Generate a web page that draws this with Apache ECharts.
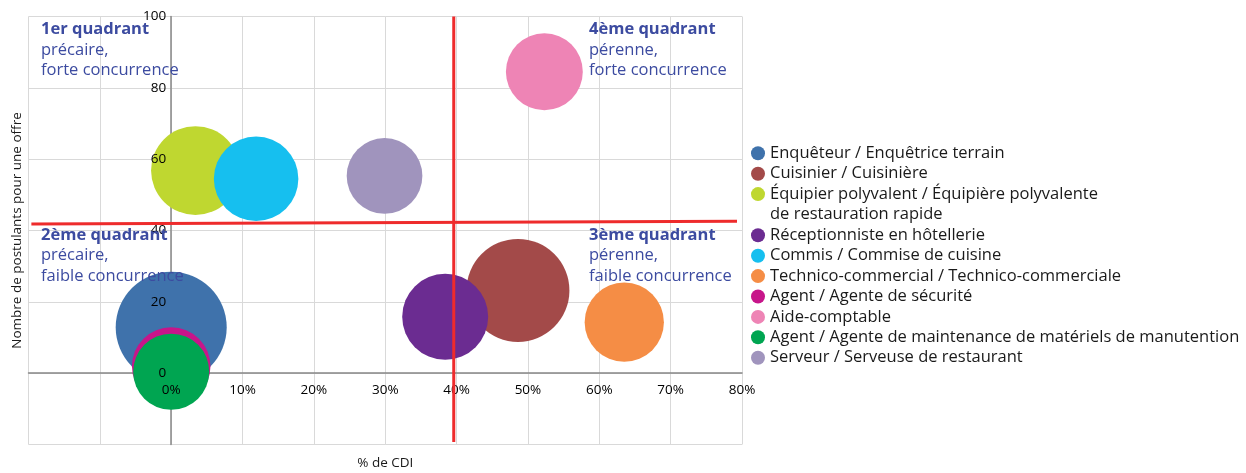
<!DOCTYPE html>
<html>
<head>
<meta charset="utf-8">
<script src="https://cdn.jsdelivr.net/npm/echarts/dist/echarts.min.js"></script>
<style>
html,body{margin:0;padding:0;background:#fff;}
#chart{width:1246px;height:473px;}
</style>
</head>
<body>
<div id="chart"></div>
<script>
// ---- data ----
const jobNames = [
  'Enquêteur / Enquêtrice terrain',
  'Cuisinier / Cuisinière',
  'Équipier polyvalent / Équipière polyvalente\nde restauration rapide',
  'Réceptionniste en hôtellerie',
  'Commis / Commise de cuisine',
  'Technico-commercial / Technico-commerciale',
  'Agent / Agente de sécurité',
  'Aide-comptable',
  'Agent / Agente de maintenance de matériels de manutention',
  'Serveur / Serveuse de restaurant'
];
const cdiPercent = [0, 48.6, 3.4, 38.4, 11.9, 63.5, 0, 52.3, 0, 29.9];
const applicantsPerOffer = [12.9, 23.2, 56.8, 15.8, 54.5, 14.3, 1.9, 84.5, 0.4, 55.3];
const bubbleValue = [100, 86, 64, 60, 58, 51, 50, 48, 47, 46.5];
const verticalDivider = [[39.6, -19.3], [39.6, 100]];
const horizontalDivider = [[-19.6, 41.8], [79.3, 42.6]];
const xRange = [-20, 80], xStep = 10;
const yRange = [-20, 100], yStep = 20;
const quadrantTitles = ['1er quadrant', '4ème quadrant', '2ème quadrant', '3ème quadrant'];
const quadrantLines = [
  ['précaire,', 'forte concurrence'],
  ['pérenne,', 'forte concurrence'],
  ['précaire,', 'faible concurrence'],
  ['pérenne,', 'faible concurrence']
];

// ---- styles / layout ----
const colors = ['#3f72ab', '#a34a49', '#bfd730', '#6b2c91', '#16bfef', '#f58d45', '#c7158a', '#ee84b5', '#00a551', '#a094bd'];
const FONT = 'Open Sans';
const TXT = 16.5;
const MAX_DIAMETER = 111;
const quadrantPos = [[41, 21], [589, 21], [41, 226.5], [589, 226.5]];
const W = 1246, H = 473;
const G = {left: 28.5, right: 504, top: 16.5, bottom: 28.5};
const plotW = W - G.left - G.right, plotH = H - G.top - G.bottom;
const zeroX = G.left + (0 - xRange[0]) / (xRange[1] - xRange[0]) * plotW;
const zeroY = G.top + (yRange[1] - 0) / (yRange[1] - yRange[0]) * plotH;

const chart = echarts.init(document.getElementById('chart'), null, {renderer: 'canvas'});

const series = jobNames.map((n, i) => ({
  type: 'scatter',
  name: n,
  xAxisIndex: 0, yAxisIndex: 0,
  data: [[cdiPercent[i], applicantsPerOffer[i], bubbleValue[i]]],
  symbol: 'circle',
  symbolSize: v => MAX_DIAMETER * Math.sqrt(v[2] / 100),
  itemStyle: {color: colors[i], opacity: 1},
  emphasis: {disabled: true},
  z: 2,
  silent: true
}));
series.push({
  type: 'line', name: 'divV', xAxisIndex: 0, yAxisIndex: 0,
  data: verticalDivider, symbol: 'none', silent: true, z: 6,
  lineStyle: {color: '#ee2b2c', width: 3}
});
series.push({
  type: 'line', name: 'divH', xAxisIndex: 0, yAxisIndex: 0,
  data: horizontalDivider, symbol: 'none', silent: true, z: 6,
  lineStyle: {color: '#ee2b2c', width: 3}
});

const legendText = {fontFamily: FONT, fontSize: TXT, color: '#1a1a1a', lineHeight: 20.4};
const firstLine = n => n.split('\n')[0];

const graphics = quadrantTitles.map((t, i) => ({
  type: 'text', left: quadrantPos[i][0], top: quadrantPos[i][1], z: 20, silent: true,
  style: {
    text: '{b|' + t + '}\n' + quadrantLines[i].map(s => '{r|' + s + '}').join('\n'),
    rich: {
      b: {fontFamily: FONT, fontSize: TXT, fontWeight: 'bold', fill: '#3c4ba0', lineHeight: 20.4},
      r: {fontFamily: FONT, fontSize: TXT, fill: '#3c4ba0', lineHeight: 20.4}
    }
  }
}));
graphics.push({
  type: 'text', left: 770, top: 204.1, z: 20, silent: true,
  style: {text: jobNames[2].split('\n')[1], fontFamily: FONT, fontSize: TXT, fill: '#1a1a1a', lineHeight: 20.4}
});

const noGridOpts = {outerBoundsMode: 'none', containLabel: false};
const hiddenAxis = (gi, r) => ({gridIndex: gi, type: 'value', min: r[0], max: r[1], show: false});
const labelFont = {color: '#000', fontSize: 13.5, fontFamily: FONT};

const option = {
  animation: false,
  backgroundColor: '#ffffff',
  textStyle: {fontFamily: FONT},
  grid: [
    Object.assign({}, G, noGridOpts),
    // grid whose left edge sits on x = 0 : carries the y tick labels
    Object.assign({left: zeroX, right: G.right, top: G.top, bottom: G.bottom}, noGridOpts),
    // grid whose bottom edge sits on y = 0 : carries the x tick labels
    Object.assign({left: G.left, right: G.right, top: G.top, bottom: H - zeroY}, noGridOpts)
  ],
  xAxis: [
    {
      gridIndex: 0, type: 'value', min: xRange[0], max: xRange[1], interval: xStep, position: 'bottom',
      axisLine: {show: true, onZero: true, lineStyle: {color: '#878787', width: 1.5}},
      axisTick: {show: false},
      axisLabel: {show: false},
      splitLine: {show: true, showMinLine: true, showMaxLine: true, lineStyle: {color: '#d9d9d9', width: 1}},
      z: 0
    },
    hiddenAxis(1, xRange),
    {
      gridIndex: 2, type: 'value', min: xRange[0], max: xRange[1], interval: xStep, position: 'bottom',
      axisLine: {show: false, onZero: false},
      axisTick: {show: false},
      splitLine: {show: false},
      axisLabel: Object.assign({formatter: v => v < 0 ? '' : v + '%', margin: 10}, labelFont),
      name: '% de CDI', nameLocation: 'middle', nameGap: 83,
      nameTextStyle: {color: '#1a1a1a', fontSize: 13.5, fontFamily: FONT},
      z: 4
    }
  ],
  yAxis: [
    {
      gridIndex: 0, type: 'value', min: yRange[0], max: yRange[1], interval: yStep, position: 'left',
      axisLine: {show: true, onZero: true, lineStyle: {color: '#878787', width: 1.5}},
      axisTick: {show: false},
      axisLabel: {show: false},
      splitLine: {show: true, showMinLine: true, showMaxLine: true, lineStyle: {color: '#d9d9d9', width: 1}},
      z: 0
    },
    {
      gridIndex: 1, type: 'value', min: yRange[0], max: yRange[1], interval: yStep, position: 'left',
      axisLine: {show: false, onZero: false},
      axisTick: {show: false},
      splitLine: {show: false},
      axisLabel: Object.assign({formatter: v => v < 0 ? '' : String(v), margin: 5}, labelFont),
      name: 'Nombre de postulants pour une offre', nameLocation: 'middle', nameGap: 147,
      nameTextStyle: {color: '#1a1a1a', fontSize: 13.5, fontFamily: FONT},
      z: 4
    },
    hiddenAxis(2, yRange)
  ],
  legend: [
    {
      orient: 'vertical', left: 751, top: 143.1, padding: 0, itemGap: 0,
      itemWidth: 14, itemHeight: 14, icon: 'circle', selectedMode: false,
      data: jobNames.slice(0, 3), formatter: firstLine, textStyle: legendText
    },
    {
      orient: 'vertical', left: 751, top: 225.1, padding: 0, itemGap: 0,
      itemWidth: 14, itemHeight: 14, icon: 'circle', selectedMode: false,
      data: jobNames.slice(3), formatter: firstLine, textStyle: legendText
    }
  ],
  graphic: graphics,
  series: series
};
chart.setOption(option);
</script>
</body>
</html>
